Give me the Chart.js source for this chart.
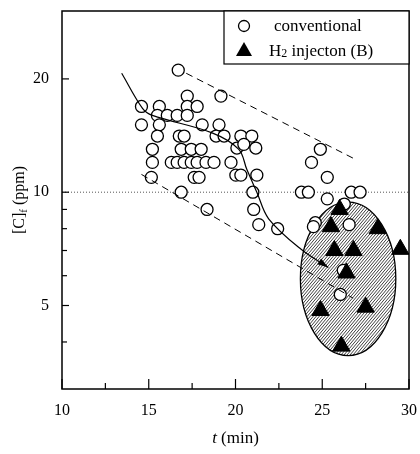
<!DOCTYPE html>
<html>
<head>
<meta charset="utf-8">
<script src="https://cdn.jsdelivr.net/npm/chart.js@4.4.0/dist/chart.umd.min.js"></script>
<style>
  html, body { margin: 0; padding: 0; background: #fff; }
  #wrap { width: 420px; height: 454px; }
</style>
</head>
<body>
<div id="wrap"><canvas id="c" width="420" height="454"></canvas></div>
<script>
// conventional (open circles)
const convX = [16.70, 19.16, 17.22, 14.58, 15.61, 17.22, 17.79, 15.50, 16.07, 16.64, 17.22,
    14.58, 15.61, 18.08, 19.05, 15.50, 16.76, 17.04, 18.88, 19.34, 20.31, 20.94,
    15.21, 16.87, 17.45, 18.02, 20.08, 20.48, 21.17,
    15.21, 16.30, 16.64, 17.04, 17.45, 17.79, 18.30, 18.76, 19.74,
    15.15, 17.62, 17.90, 20.02, 20.31, 21.23, 16.87, 18.36, 21.00, 21.05, 21.34, 22.43,
    24.89, 24.38, 25.29, 23.80, 24.20, 26.67, 27.18, 25.29, 26.27, 24.60, 24.49, 26.55, 26.21, 26.04];
const convY = [21.1, 18.0, 18.0, 16.9, 16.9, 16.9, 16.9, 16.0, 16.0, 16.0, 16.0,
    15.1, 15.1, 15.1, 15.1, 14.1, 14.1, 14.1, 14.1, 14.1, 14.1, 14.1,
    13.0, 13.0, 13.0, 13.0, 13.1, 13.4, 13.1,
    12.0, 12.0, 12.0, 12.0, 12.0, 12.0, 12.0, 12.0, 12.0,
    10.95, 10.95, 10.95, 11.1, 11.1, 11.1, 10.0, 9.0, 10.0, 9.0, 8.2, 8.0,
    13.0, 12.0, 10.95, 10.0, 10.0, 10.0, 10.0, 9.6, 9.3, 8.3, 8.1, 8.2, 6.2, 5.35];

// H2 injection (filled triangles)
const h2X = [26.0, 25.5, 28.2, 25.7, 26.8, 29.5, 26.4, 24.9, 27.5, 26.1];
const h2Y = [9.0, 8.1, 8.0, 7.0, 7.0, 7.05, 6.1, 4.85, 4.95, 3.9];

// trend lines
const solidX = [13.44, 14.64, 15.21, 18.65, 20.19, 20.65, 21.23, 21.91, 23.80, 25.35];
const solidY = [20.7, 16.7, 16.0, 14.38, 13.0, 11.5, 10.0, 8.5, 7.04, 6.31];
const dashUpX = [17.16, 26.95];
const dashUpY = [20.7, 12.2];
const dashLowX = [14.58, 26.78];
const dashLowY = [11.15, 5.23];
const refX = [10, 30];
const refY = [10, 10];

// hatched region (x range, y range)
const ovalX = [23.74, 29.24];
const ovalY = [3.68, 9.41];

const yTicks = [4, 5, 6, 7, 8, 9, 10, 20];
const yLabels = [5, 10, 20];

const serif = "'Liberation Serif', 'DejaVu Serif', serif";

function pts(xs, ys) {
    return xs.map((v, i) => ({ x: v, y: ys[i] }));
}

const figurePlugin = {
    id: 'figure',
    beforeDatasetsDraw(chart) {
        const ctx = chart.ctx;
        const x = chart.scales.x, y = chart.scales.y;
        const x0 = x.getPixelForValue(ovalX[0]), x1 = x.getPixelForValue(ovalX[1]);
        const yTop = y.getPixelForValue(ovalY[1]), yBot = y.getPixelForValue(ovalY[0]);
        const cx = (x0 + x1) / 2, cy = (yTop + yBot) / 2;
        const rx = (x1 - x0) / 2, ry = (yBot - yTop) / 2;
        ctx.save();
        ctx.beginPath();
        ctx.ellipse(cx, cy, rx, ry, 0, 0, Math.PI * 2);
        ctx.fillStyle = '#fff';
        ctx.fill();
        ctx.save();
        ctx.clip();
        // diagonal hatch
        ctx.strokeStyle = '#2a2a2a';
        ctx.lineWidth = 0.9;
        const h = yBot - yTop, run = h / 1.2;
        for (let k = -run; k < (x1 - x0) + 2; k += 3) {
            ctx.beginPath();
            ctx.moveTo(x0 + k, yBot);
            ctx.lineTo(x0 + k + run, yTop);
            ctx.stroke();
        }
        ctx.restore();
        ctx.beginPath();
        ctx.ellipse(cx, cy, rx, ry, 0, 0, Math.PI * 2);
        ctx.strokeStyle = '#000';
        ctx.lineWidth = 1.3;
        ctx.stroke();
        ctx.restore();
    },
    afterDatasetsDraw(chart) {
        const ctx = chart.ctx;
        const x = chart.scales.x, y = chart.scales.y;
        const a = chart.chartArea;
        ctx.save();

        // arrow head at end of the solid line
        const n = solidX.length;
        const ex = x.getPixelForValue(solidX[n - 1]), ey = y.getPixelForValue(solidY[n - 1]);
        const px = x.getPixelForValue(solidX[n - 2]), py = y.getPixelForValue(solidY[n - 2]);
        const ang = Math.atan2(ey - py, ex - px);
        ctx.fillStyle = '#000';
        ctx.beginPath();
        ctx.moveTo(ex, ey);
        ctx.lineTo(ex - 11 * Math.cos(ang) + 3.5 * Math.sin(ang), ey - 11 * Math.sin(ang) - 3.5 * Math.cos(ang));
        ctx.lineTo(ex - 11 * Math.cos(ang) - 3.5 * Math.sin(ang), ey - 11 * Math.sin(ang) + 3.5 * Math.cos(ang));
        ctx.closePath();
        ctx.fill();

        // frame
        ctx.strokeStyle = '#000';
        ctx.lineWidth = 1.5;
        ctx.strokeRect(a.left, a.top, a.right - a.left, a.bottom - a.top);

        // inward ticks
        ctx.lineWidth = 1.2;
        x.ticks.forEach(t => {
            const p = x.getPixelForValue(t.value);
            const len = t.value % 5 === 0 ? 10 : 6;
            ctx.beginPath();
            ctx.moveTo(p, a.bottom);
            ctx.lineTo(p, a.bottom - len);
            ctx.stroke();
        });
        y.ticks.forEach(t => {
            const p = y.getPixelForValue(t.value);
            const len = yLabels.includes(t.value) ? 7 : 5;
            ctx.beginPath();
            ctx.moveTo(a.left, p);
            ctx.lineTo(a.left + len, p);
            ctx.stroke();
        });

        // legend box
        const lw = 185, lh = 53;
        const lx = a.right - lw, ly = a.top;
        ctx.fillStyle = '#fff';
        ctx.fillRect(lx, ly, lw, lh);
        ctx.lineWidth = 1.2;
        ctx.strokeRect(lx, ly, lw, lh);
        ctx.beginPath();
        ctx.arc(lx + 20, ly + 15, 5.5, 0, Math.PI * 2);
        ctx.lineWidth = 1.3;
        ctx.stroke();
        ctx.fillStyle = '#000';
        ctx.beginPath();
        ctx.moveTo(lx + 20, ly + 31);
        ctx.lineTo(lx + 28, ly + 45);
        ctx.lineTo(lx + 12, ly + 45);
        ctx.closePath();
        ctx.fill();
        ctx.font = '17px ' + serif;
        ctx.textBaseline = 'alphabetic';
        ctx.textAlign = 'left';
        ctx.fillText('conventional', lx + 50, ly + 20);
        let tx = lx + 45;
        ctx.fillText('H', tx, ly + 45);
        tx += ctx.measureText('H').width;
        ctx.font = '12px ' + serif;
        ctx.fillText('2', tx, ly + 46);
        tx += ctx.measureText('2').width;
        ctx.font = '17px ' + serif;
        ctx.fillText(' injecton (B)', tx, ly + 45);

        // x title
        const cxm = (a.left + a.right) / 2;
        ctx.font = 'italic 17px ' + serif;
        const w1 = ctx.measureText('t').width;
        ctx.font = '17px ' + serif;
        const w2 = ctx.measureText(' (min)').width;
        let sx = cxm - (w1 + w2) / 2;
        ctx.font = 'italic 17px ' + serif;
        ctx.fillText('t', sx, 443);
        ctx.font = '17px ' + serif;
        ctx.fillText(' (min)', sx + w1, 443);

        // y title
        ctx.save();
        ctx.translate(24, (a.top + a.bottom) / 2);
        ctx.rotate(-Math.PI / 2);
        ctx.font = '16px ' + serif;
        const p1 = '[C]', p3 = ' (ppm)';
        const wa = ctx.measureText(p1).width, wc = ctx.measureText(p3).width;
        ctx.font = '11px ' + serif;
        const wb = ctx.measureText('f').width;
        let s = -(wa + wb + wc) / 2;
        ctx.font = '16px ' + serif;
        ctx.fillText(p1, s, 0);
        ctx.font = '11px ' + serif;
        ctx.fillText('f', s + wa, 3);
        ctx.font = '16px ' + serif;
        ctx.fillText(p3, s + wa + wb, 0);
        ctx.restore();

        ctx.restore();
    }
};

const ctx = document.getElementById('c').getContext('2d');
new Chart(ctx, {
    type: 'scatter',
    data: {
        datasets: [
            {
                label: 'H2 injecton (B)',
                data: pts(h2X, h2Y),
                pointStyle: 'triangle',
                pointRadius: 10,
                backgroundColor: '#000',
                borderColor: '#000',
                borderWidth: 1,
                order: 0
            },
            {
                data: pts(solidX, solidY),
                showLine: true,
                pointRadius: 0,
                borderColor: '#000',
                borderWidth: 1.2,
                tension: 0.35,
                order: 1
            },
            {
                data: pts(dashUpX, dashUpY),
                showLine: true,
                pointRadius: 0,
                borderColor: '#000',
                borderWidth: 1,
                borderDash: [7, 5],
                order: 1
            },
            {
                data: pts(dashLowX, dashLowY),
                showLine: true,
                pointRadius: 0,
                borderColor: '#000',
                borderWidth: 1,
                borderDash: [7, 5],
                order: 1
            },
            {
                label: 'conventional',
                data: pts(convX, convY),
                pointStyle: 'circle',
                pointRadius: 6,
                backgroundColor: '#fff',
                borderColor: '#000',
                borderWidth: 1.3,
                order: 2
            },
            {
                data: pts(refX, refY),
                showLine: true,
                pointRadius: 0,
                borderColor: '#555',
                borderWidth: 1,
                borderDash: [1, 2],
                order: 3
            }
        ]
    },
    options: {
        responsive: false,
        animation: false,
        layout: { padding: { top: 7, right: 10, left: 0, bottom: 0 } },
        plugins: { legend: { display: false }, tooltip: { enabled: false } },
        scales: {
            x: {
                type: 'linear',
                min: 10,
                max: 30,
                grid: { display: false, drawTicks: false },
                border: { display: false },
                ticks: {
                    stepSize: 2.5,
                    autoSkip: false,
                    maxRotation: 0,
                    padding: 12,
                    color: '#000',
                    font: { family: serif, size: 16 },
                    callback: v => (v % 5 === 0 ? String(v) : '')
                },
                afterFit: s => { s.height = 65; s.paddingLeft = 0; s.paddingRight = 0; }
            },
            y: {
                type: 'logarithmic',
                min: 3,
                max: 30.3,
                grid: { display: false, drawTicks: false },
                border: { display: false },
                afterBuildTicks: s => { s.ticks = yTicks.map(v => ({ value: v })); },
                ticks: {
                    autoSkip: false,
                    padding: 13,
                    color: '#000',
                    font: { family: serif, size: 16 },
                    callback: v => (yLabels.includes(v) ? String(v) : '')
                },
                afterFit: s => { s.width = 62; s.paddingTop = 0; s.paddingBottom = 0; }
            }
        }
    },
    plugins: [figurePlugin]
});
</script>
</body>
</html>
